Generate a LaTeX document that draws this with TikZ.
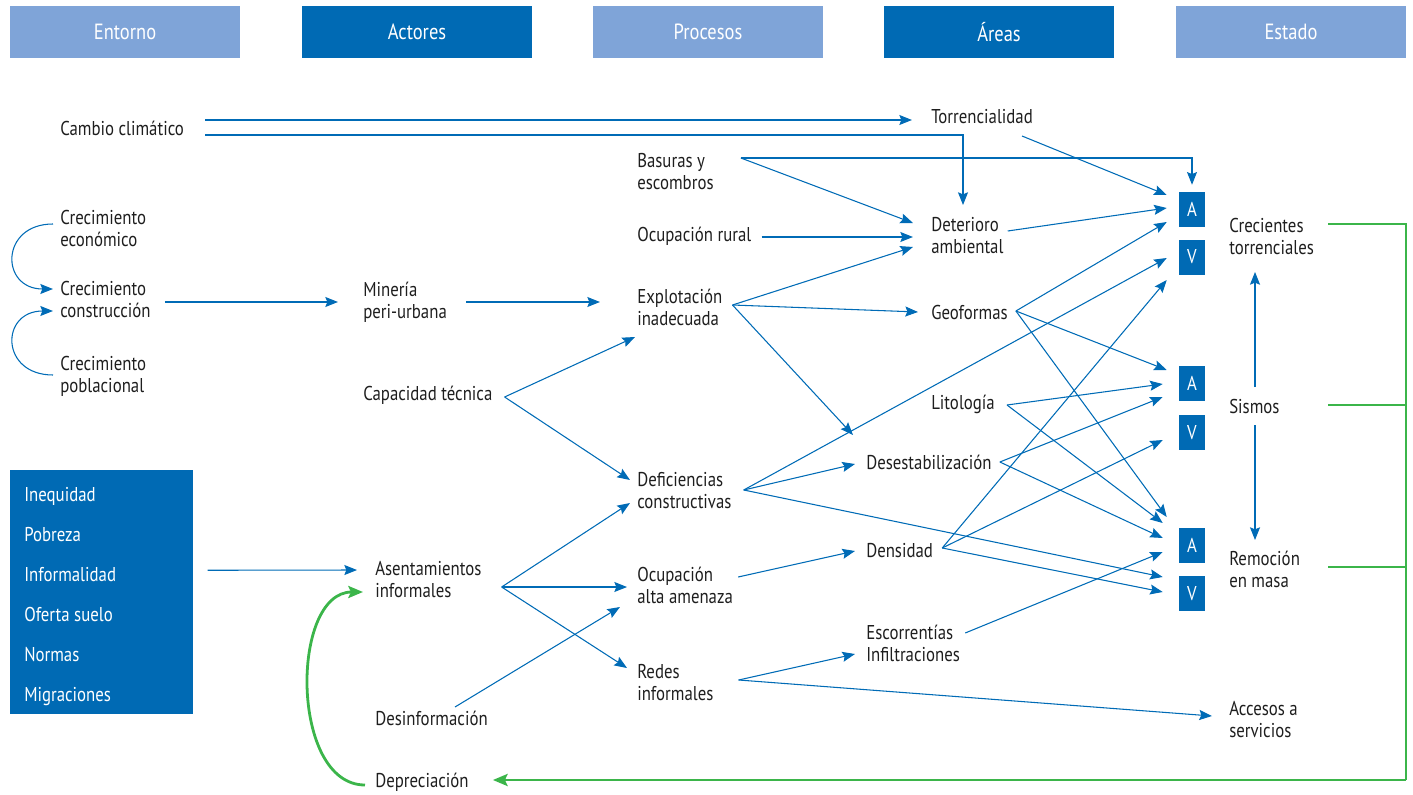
\documentclass[tikz,border=0pt]{standalone}
\usepackage{fontspec}
\setmainfont{PT Sans}[FakeStretch=0.84]
\usetikzlibrary{arrows.meta,calc}
\definecolor{lb}{RGB}{127,164,216}
\definecolor{db}{RGB}{0,106,180}
\definecolor{ln}{RGB}{0,107,182}
\definecolor{gr}{RGB}{59,181,74}
\definecolor{tx}{RGB}{30,30,30}
\begin{document}
\begin{tikzpicture}[x=0.75pt,y=-0.75pt,
 txt/.style={anchor=west,inner sep=0pt,align=left,text=tx,font=\fontsize{15}{16.5}\selectfont},
 hdr/.style={minimum width=172.5pt,minimum height=39pt,inner sep=0pt,text=white,font=\fontsize{16.5}{18}\selectfont},
 avbox/.style={fill=db,text=white,minimum width=19.5pt,minimum height=26.25pt,inner sep=0pt,font=\fontsize{15}{16}\selectfont},
 arr/.style={draw=ln,line width=0.8pt,-{Stealth[length=9.5pt,width=7.5pt,inset=1.5pt]}},
 garr/.style={draw=gr,line width=2.1pt,-{Stealth[length=11pt,width=9pt,inset=2pt]}},
 gline/.style={draw=gr,line width=2.1pt}
]
\useasboundingbox (0,0) rectangle (1413,795);
% headers
\node[hdr,fill=lb] (h1) at (125,32) {Entorno};
\node[hdr,fill=db] (h2) at (417,32) {Actores};
\node[hdr,fill=lb] (h3) at (708,32) {Procesos};
\node[hdr,fill=db] (h4) at (999,32) {Áreas};
\node[hdr,fill=lb] (h5) at (1291,32) {Estado};
% Entorno
\node[txt] (cc) at (60,128) {Cambio climático};
\node[txt] (ce) at (60,228) {Crecimiento\\económico};
\node[txt] (cco) at (60,299) {Crecimiento\\construcción};
\node[txt] (cp) at (60,376) {Crecimiento\\poblacional};
\node[fill=db,anchor=north west,minimum width=137.25pt,minimum height=183pt,inner sep=0pt] (eb) at (10,470) {};
\node[txt,text=white,font=\fontsize{15}{30}\selectfont] (ebt) at (24,597) {Inequidad\\Pobreza\\Informalidad\\Oferta suelo\\Normas\\Migraciones};
% Actores
\node[txt] (min) at (363,302) {Minería\\peri-urbana};
\node[txt] (cap) at (363,395) {Capacidad técnica};
\node[txt] (ase) at (375,580) {Asentamientos\\informales};
\node[txt] (des) at (375,718) {Desinformación};
\node[txt] (dep) at (375,782) {Depreciación};
% Procesos
\node[txt] (bas) at (637,172) {Basuras y\\escombros};
\node[txt] (ocr) at (637,236) {Ocupación rural};
\node[txt] (exp) at (637,307) {Explotación\\inadecuada};
\node[txt] (def) at (637,491) {Deficiencias\\constructivas};
\node[txt] (oaa) at (637,585) {Ocupación\\alta amenaza};
\node[txt] (red) at (637,683) {Redes\\informales};
% Areas
\node[txt] (tor) at (931,117) {Torrencialidad};
\node[txt] (det) at (931,236) {Deterioro\\ambiental};
\node[txt] (geo) at (931,312) {Geoformas};
\node[txt] (lit) at (931,404) {Litología};
\node[txt] (dst) at (866,462) {Desestabilización};
\node[txt] (den) at (866,551) {Densidad};
\node[txt] (esc) at (866,643) {Escorrentías\\Infiltraciones};
% Estado
\node[avbox] (A1) at (1192,209.5) {A};
\node[avbox] (V1) at (1192,257) {V};
\node[avbox] (A2) at (1192,383.5) {A};
\node[avbox] (V2) at (1192,432.5) {V};
\node[avbox] (A3) at (1192,545.5) {A};
\node[avbox] (V3) at (1192,593.5) {V};
\node[txt] (crec) at (1229,236) {Crecientes\\torrenciales};
\node[txt] (sis) at (1229,406) {Sismos};
\node[txt] (rem) at (1229,569) {Remoción\\en masa};
\node[txt] (acc) at (1229,720) {Accesos a\\servicios};
% left curves
\draw[arr] ($(ce.west)+(-7,-4)$) .. controls (0,224) and (0,289) .. ($(cco.west)+(-7,-10)$);
\draw[arr] ($(cp.west)+(-7,-1)$) .. controls (0,375) and (0,311) .. ($(cco.west)+(-7,12)$);
% Entorno connectors
\draw[arr] ($(cc.east)+(21,-8)$) -- ($(tor.west)+(-19,3)$);
\draw[arr] ($(cc.east)+(21,7)$) -| ($(det.west)+(32,-31)$);
\draw[arr] ($(cco.east)+(14,3)$) -- ($(min.west)+(-25,0)$);
\draw[arr] ($(eb.east)+(14,-22)$) -- ($(ase.west)+(-18,-10)$);
% Actores connectors
\draw[arr] ($(min.east)+(19,0)$) -- ($(exp.west)+(-37,-5)$);
\draw[arr] ($(cap.east)+(12,2)$) -- ($(exp.west)+(-2,30)$);
\draw[arr] ($(cap.east)+(12,2)$) -- ($(def.west)+(-7,-11)$);
\draw[arr] ($(ase.east)+(20,7)$) -- ($(def.west)+(-7,12)$);
\draw[arr] ($(ase.east)+(20,7)$) -- ($(oaa.west)+(-10,2)$);
\draw[arr] ($(ase.east)+(20,7)$) -- ($(red.west)+(-10,-15)$);
\draw[arr] ($(des.west)+(80,-11)$) -- ($(oaa.west)+(-17,22)$);
% Procesos connectors
\draw[arr] ($(bas.east)+(27,-14)$) -- ($(det.west)+(-18,-13)$);
\draw[arr] ($(bas.east)+(27,-14)$) -| ($(A1.north)+(0,-7)$);
\draw[arr] ($(ocr.east)+(10,1)$) -- ($(det.west)+(-18,1)$);
\draw[arr] ($(exp.east)+(10,-2)$) -- ($(det.west)+(-18,11)$);
\draw[arr] ($(exp.east)+(10,-2)$) -- ($(geo.west)+(-13,0)$);
\draw[arr] ($(exp.east)+(10,-2)$) -- ($(dst.west)+(-13,-27)$);
\draw[arr] ($(def.east)+(12,-1)$) -- ($(dst.west)+(-11,2)$);
\draw[arr] ($(def.east)+(12,-1)$) -- ($(V1.west)+(-12,1)$);
\draw[arr] ($(def.east)+(12,-1)$) -- ($(V3.west)+(-16,-16.5)$);
\draw[arr] ($(oaa.east)+(5,-8)$) -- ($(den.west)+(-11,0)$);
\draw[arr] ($(red.east)+(25,-3)$) -- ($(esc.west)+(-11,11)$);
\draw[arr] ($(red.east)+(25,-3)$) -- ($(acc.west)+(-17,-4)$);
% Areas connectors
\draw[arr] ($(tor.west)+(91,19)$) -- ($(A1.west)+(-12,-14.5)$);
\draw[arr] ($(det.east)+(4,-5)$) -- ($(A1.west)+(-12,-1.5)$);
\draw[arr] ($(geo.east)+(8,-1)$) -- ($(A1.west)+(-12,12.5)$);
\draw[arr] ($(geo.east)+(8,-1)$) -- ($(A2.west)+(-12,-13.5)$);
\draw[arr] ($(geo.east)+(8,-1)$) -- ($(A3.west)+(-12,-28.5)$);
\draw[arr] ($(lit.east)+(12,1)$) -- ($(A2.west)+(-16,0.5)$);
\draw[arr] ($(lit.east)+(12,1)$) -- ($(A3.west)+(-16,-22.5)$);
\draw[arr] ($(dst.east)+(8,0)$) -- ($(A2.west)+(-16,13.5)$);
\draw[arr] ($(dst.east)+(8,0)$) -- ($(A3.west)+(-16,-7.5)$);
\draw[arr] ($(den.east)+(9,-3)$) -- ($(V1.west)+(-12,23)$);
\draw[arr] ($(den.east)+(9,-3)$) -- ($(V2.west)+(-16,7.5)$);
\draw[arr] ($(den.east)+(9,-3)$) -- ($(V3.west)+(-16,-1.5)$);
\draw[arr] ($(esc.east)+(5,-10)$) -- ($(A3.west)+(-16,6.5)$);
% Estado
\draw[arr] ($(sis.west)+(26,-19)$) -- ($(crec.west)+(26,36)$);
\draw[arr] ($(sis.west)+(26,19)$) -- ($(rem.west)+(26,-29)$);
% green loop
\coordinate (gt) at (1406,224);
\coordinate (gb) at (1406,780);
\draw[gline] ($(crec.west)+(99,-12)$) -- (gt) -- (gb);
\draw[gline] ($(sis.west)+(99,-1)$) -- (1406,405);
\draw[gline] ($(rem.west)+(99,-2)$) -- (1406,567);
\draw[garr] (gb) -- ($(dep.east)+(24,-2)$);
\draw[garr] ($(dep.west)+(-10,3)$) .. controls (290,785) and (290,592) .. ($(ase.west)+(-12,12)$);
\end{tikzpicture}
\end{document}
